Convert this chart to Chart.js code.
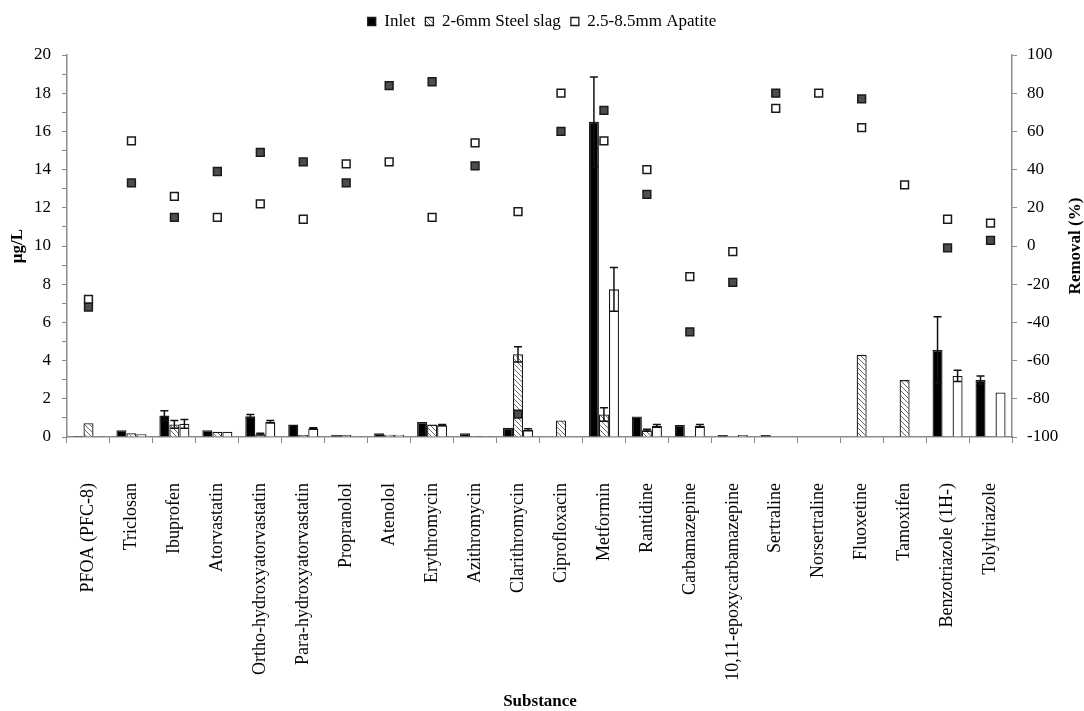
<!DOCTYPE html>
<html>
<head>
<meta charset="utf-8">
<script src="https://cdn.jsdelivr.net/npm/chart.js@4.4.1/dist/chart.umd.min.js"></script>
<style>
  html, body { margin: 0; padding: 0; background: #fff; }
  #wrap { width: 1084px; height: 711px; }
</style>
</head>
<body>
<div id="wrap"><canvas id="chart" width="1084" height="711"></canvas></div>
<script>
// Substances on the x axis
const substances = ['PFOA (PFC-8)', 'Triclosan', 'Ibuprofen', 'Atorvastatin', 'Ortho-hydroxyatorvastatin',
    'Para-hydroxyatorvastatin', 'Propranolol', 'Atenolol', 'Erythromycin', 'Azithromycin', 'Clarithromycin',
    'Ciprofloxacin', 'Metformin', 'Rantidine', 'Carbamazepine', '10,11-epoxycarbamazepine', 'Sertraline',
    'Norsertraline', 'Fluoxetine', 'Tamoxifen', 'Benzotriazole (1H-)', 'Tolyltriazole'];

// Concentrations (µg/L)
const inlet      = [0.05, 0.35, 1.12, 0.35, 1.08, 0.65, 0.12, 0.20, 0.78, 0.20, 0.48, 0.03, 16.5, 1.07, 0.63, 0.10, 0.10, 0.03, 0.03, 0.03, 4.55, 2.98];
const inletErr   = [0, 0, 0.26, 0, 0.10, 0, 0, 0, 0, 0, 0, 0, 2.35, 0, 0, 0, 0, 0, 0, 0, 1.75, 0.22];
const steelSlag  = [0.72, 0.20, 0.66, 0.28, 0.15, 0.10, 0.10, 0.12, 0.65, 0.05, 4.33, 0.87, 1.18, 0.35, 0.05, 0.03, 0.03, 0.03, 4.30, 2.98, 0, 0];
const steelErr   = [0, 0, 0.20, 0, 0.05, 0, 0, 0, 0, 0, 0.40, 0, 0.35, 0.05, 0, 0, 0, 0, 0, 0, 0, 0];
const apatite    = [0.05, 0.15, 0.69, 0.28, 0.80, 0.45, 0.05, 0.12, 0.62, 0.05, 0.38, 0.03, 7.73, 0.58, 0.58, 0.10, 0.03, 0.03, 0.03, 0.03, 3.20, 2.33];
const apatiteErr = [0, 0, 0.23, 0, 0.07, 0.04, 0, 0, 0.03, 0, 0.05, 0, 1.15, 0.07, 0.07, 0, 0, 0, 0, 0, 0.30, 0];

// Removal (%)
const removalSlag    = [-32, 33, 15, 39, 49, 44, 33, 84, 86, 42, -88, 60, 71, 27, -45, -19, 80, null, 77, null, -1, 3];
const removalApatite = [-28, 55, 26, 15, 22, 14, 43, 44, 15, 54, 18, 80, 55, 40, -16, -3, 72, 80, 62, 32, 14, 12];

// Axis ticks
const leftTicks = { min: 0, max: 20, step: 1, labelEvery: 2 };
const rightTicks = { min: -100, max: 100, step: 20 };

const FONT = '"Liberation Serif", "Times New Roman", serif';

function hatchPattern() {
    const c = document.createElement('canvas');
    c.width = 5; c.height = 5;
    const g = c.getContext('2d');
    g.fillStyle = '#fff';
    g.fillRect(0, 0, 5, 5);
    g.strokeStyle = '#6a6a6a';
    g.lineWidth = 1;
    g.beginPath();
    g.moveTo(0, 0); g.lineTo(5, 5);
    g.moveTo(-1, 4); g.lineTo(1, 6);
    g.moveTo(4, -1); g.lineTo(6, 1);
    g.stroke();
    return g.createPattern(c, 'repeat');
}

// Error bars drawn right after each bar dataset
const errorBars = {
    id: 'errorBars',
    afterDatasetDraw(chart, args) {
        const ds = chart.data.datasets[args.index];
        if (!ds.errors) return;
        const y = chart.scales.y;
        const ctx = chart.ctx;
        ctx.save();
        ctx.strokeStyle = '#111';
        ctx.lineWidth = 1.5;
        args.meta.data.forEach((bar, i) => {
            const e = ds.errors[i];
            if (!e) return;
            const v = ds.data[i];
            const top = y.getPixelForValue(v + e);
            const bot = y.getPixelForValue(Math.max(0, v - e));
            ctx.beginPath();
            ctx.moveTo(bar.x, top); ctx.lineTo(bar.x, bot);
            ctx.moveTo(bar.x - 4, top); ctx.lineTo(bar.x + 4, top);
            ctx.moveTo(bar.x - 4, bot); ctx.lineTo(bar.x + 4, bot);
            ctx.stroke();
        });
        ctx.restore();
    }
};

// extra room under the legend
const legendGap = {
    id: 'legendGap',
    afterInit(chart) {
        const lg = chart.legend;
        if (!lg) return;
        const fit = lg.fit.bind(lg);
        lg.fit = function () { fit(); this.height += 15; };
    }
};

// Axis titles
const axisTitles = {
    id: 'axisTitles',
    afterDraw(chart) {
        const ctx = chart.ctx;
        const a = chart.chartArea;
        const midY = (a.top + a.bottom) / 2;
        ctx.save();
        ctx.fillStyle = '#000';
        ctx.font = 'bold 17px ' + FONT;
        ctx.textAlign = 'center';
        ctx.textBaseline = 'middle';
        ctx.fillText('Substance', 540, 702);
        ctx.translate(18, midY);
        ctx.rotate(-Math.PI / 2);
        ctx.fillText('µg/L', 0, 0);
        ctx.restore();
        ctx.save();
        ctx.fillStyle = '#000';
        ctx.font = 'bold 17px ' + FONT;
        ctx.textAlign = 'center';
        ctx.textBaseline = 'middle';
        ctx.translate(1076, midY);
        ctx.rotate(-Math.PI / 2);
        ctx.fillText('Removal (%)', 0, 0);
        ctx.restore();
    }
};

const barStyle = { borderColor: '#1a1a1a', borderWidth: 1.3, barPercentage: 1.0, categoryPercentage: 0.7, order: 2 };
const pointStyle = { type: 'line', showLine: false, yAxisID: 'y1', pointStyle: 'rect', pointRadius: 5.5,
    pointBorderColor: '#1a1a1a', pointBorderWidth: 1.5, order: 0 };

new Chart(document.getElementById('chart'), {
    type: 'bar',
    data: {
        labels: substances,
        datasets: [
            { label: 'Inlet', data: inlet, errors: inletErr, backgroundColor: '#000', ...barStyle },
            { label: '2-6mm Steel slag', data: steelSlag, errors: steelErr, backgroundColor: hatchPattern(), ...barStyle },
            { label: '2.5-8.5mm Apatite', data: apatite, errors: apatiteErr, backgroundColor: '#fff', ...barStyle },
            { label: 'Removal steel slag', data: removalSlag, pointBackgroundColor: '#4d4d4d', ...pointStyle },
            { label: 'Removal apatite', data: removalApatite, pointBackgroundColor: '#fff', ...pointStyle }
        ]
    },
    options: {
        responsive: false,
        animation: false,
        layout: { padding: { top: 3, left: 0, right: 0, bottom: 0 } },
        plugins: {
            tooltip: { enabled: false },
            legend: {
                position: 'top',
                labels: {
                    filter: item => item.datasetIndex < 3,
                    boxWidth: 8, boxHeight: 8, padding: 10,
                    color: '#000',
                    font: { family: FONT, size: 17 }
                }
            }
        },
        scales: {
            x: {
                afterFit: s => { s.height = 274; },
                grid: { offset: true, drawOnChartArea: false, tickLength: 6, color: '#8a8a8a' },
                border: { color: '#8a8a8a', width: 1.5 },
                ticks: { autoSkip: false, minRotation: 90, maxRotation: 90, padding: 40, color: '#000',
                    font: { family: FONT, size: 18 } }
            },
            y: {
                position: 'left',
                min: leftTicks.min, max: leftTicks.max,
                afterFit: s => { s.width = 67; },
                grid: { drawOnChartArea: false, tickLength: 5, color: '#8a8a8a' },
                border: { color: '#8a8a8a', width: 1.5 },
                ticks: { stepSize: leftTicks.step, color: '#000', padding: 11, autoSkip: false,
                    font: { family: FONT, size: 17 },
                    callback: v => (v % leftTicks.labelEvery === 0 ? v : '') }
            },
            y1: {
                position: 'right',
                min: rightTicks.min, max: rightTicks.max,
                afterFit: s => { s.width = 72; },
                grid: { drawOnChartArea: false, tickLength: 5, color: '#8a8a8a' },
                border: { color: '#8a8a8a', width: 1.5 },
                ticks: { stepSize: rightTicks.step, color: '#000', padding: 10,
                    font: { family: FONT, size: 17 } }
            }
        }
    },
    plugins: [legendGap, errorBars, axisTitles]
});
</script>
</body>
</html>
